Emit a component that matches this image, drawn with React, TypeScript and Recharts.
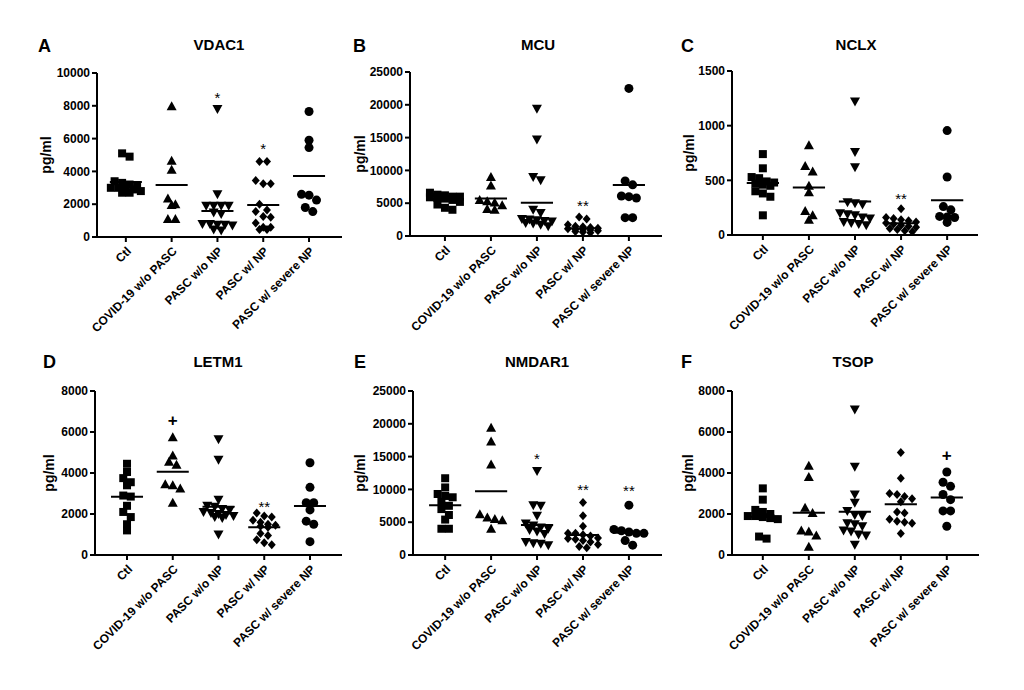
import React from 'react';
import { ReferenceLine, Scatter, ScatterChart, XAxis, YAxis } from 'recharts';

const FONT = '"Liberation Sans", Arial, sans-serif';

const categories = ['Ctl', 'COVID-19 w/o PASC', 'PASC w/o NP', 'PASC w/ NP', 'PASC w/ severe NP'];
const markerKinds = ['square', 'triangleUp', 'triangleDown', 'diamond', 'circle'];

// values, one list per group (pg/ml)
const vdac1Values = [
  [5100, 4900, 3400, 3300, 3200, 3100, 3000, 3000, 2900, 2900, 2800, 2700, 2700],
  [7970, 4650, 4100, 2350, 2000, 1950, 1100, 1100],
  [7800, 2600, 1900, 1900, 1900, 1900, 1500, 1400, 800, 800, 750, 750, 700, 450, 400],
  [4600, 4600, 3450, 3250, 3250, 2000, 1650, 1550, 1250, 1200, 850, 600, 600, 450, 450],
  [7650, 5900, 5450, 2600, 2550, 2250, 1800, 1550],
];
const vdac1Means = [3350, 3170, 1590, 1950, 3720];
const vdac1Marks = [{ group: 2, y: 8740, text: '*' }, { group: 3, y: 5590, text: '*' }];

const mcuValues = [
  [6600, 6300, 6200, 6000, 6000, 5900, 5800, 5700, 5500, 5200, 4800, 4300, 4000],
  [9000, 7700, 5500, 5300, 5100, 4700, 4100, 4000],
  [19400, 14700, 9000, 8500, 4000, 3500, 2600, 2500, 2400, 2300, 2200, 2000, 1900, 1700, 1500],
  [2900, 2600, 1700, 1500, 1400, 1300, 1200, 1100, 1000, 1000, 900, 800, 700, 600, 500],
  [22500, 8400, 7800, 6100, 6000, 5800, 2800, 2800],
];
const mcuMeans = [5600, 5730, 5070, 1170, 7760];
const mcuMarks = [{ group: 3, y: 5200, text: '**' }];

const nclxValues = [
  [740, 610, 530, 520, 490, 480, 470, 460, 450, 400, 380, 350, 180],
  [820, 630, 580, 450, 390, 220, 180, 140],
  [1220, 760, 620, 300, 290, 280, 200, 190, 180, 160, 150, 120, 110, 100, 90],
  [240, 160, 150, 140, 130, 120, 110, 100, 90, 80, 70, 60, 50, 40, 30],
  [955, 530, 260, 230, 170, 165, 160, 115],
];
const nclxMeans = [475, 435, 306, 107, 318];
const nclxMarks = [{ group: 3, y: 367, text: '**' }];

const letm1Values = [
  [4450, 4050, 3750, 3550, 3400, 2900, 2850, 2400, 2100, 1850, 1500, 1200],
  [5750, 4850, 4550, 4400, 3450, 3400, 3250, 2550],
  [5650, 4650, 2700, 2400, 2350, 2250, 2200, 2100, 2050, 2000, 1950, 1900, 1850, 1800, 1000],
  [2050, 1900, 1850, 1700, 1600, 1500, 1450, 1400, 1350, 1050, 950, 750, 600, 500],
  [4500, 3300, 2550, 2550, 2200, 1650, 1500, 650],
];
const letm1Means = [2840, 4060, 2350, 1350, 2390];
const letm1Marks = [{ group: 1, y: 6570, text: '+' }, { group: 3, y: 2550, text: '**' }];

const nmdar1Values = [
  [11700, 10300, 9300, 9000, 8800, 8100, 7500, 7000, 6100, 5400, 4000, 4000],
  [19400, 17300, 13800, 6200, 5700, 5500, 5300, 4000],
  [12800, 7600, 7500, 6000, 4800, 4500, 4200, 4000, 3800, 3600, 3200, 2000, 1800, 1700, 1500],
  [8000, 6000, 4400, 3300, 3300, 3100, 2900, 2600, 2500, 2400, 2200, 2000, 1600, 1300, 1100],
  [7600, 3900, 3700, 3500, 3300, 3300, 2200, 1500],
];
const nmdar1Means = [7600, 9730, 4560, 3040, 3400];
const nmdar1Marks = [
  { group: 2, y: 15300, text: '*' },
  { group: 3, y: 10500, text: '**' },
  { group: 4, y: 10290, text: '**' },
];

const tsopValues = [
  [3250, 2700, 2200, 2100, 2000, 1900, 1900, 1850, 1800, 1750, 900, 800],
  [4350, 3800, 2300, 2050, 1200, 1150, 950, 400],
  [7100, 4300, 2950, 2550, 2150, 1950, 1900, 1550, 1500, 1400, 1200, 1150, 1000, 950, 500],
  [5000, 3750, 3000, 2950, 2850, 2750, 2600, 2100, 2050, 1750, 1650, 1600, 1550, 1050],
  [4050, 3550, 3350, 2950, 2700, 2150, 2150, 1400],
];
const tsopMeans = [1870, 2060, 2110, 2470, 2810];
const tsopMarks = [{ group: 4, y: 4870, text: '+' }];

const ticks8000 = [0, 2000, 4000, 6000, 8000];
const ticks10000 = [0, 2000, 4000, 6000, 8000, 10000];
const ticks25000 = [0, 5000, 10000, 15000, 20000, 25000];
const ticks1500 = [0, 500, 1000, 1500];

const PLOT_H = 164;

const panels = [
  { letter: 'A', title: 'VDAC1', values: vdac1Values, means: vdac1Means, marks: vdac1Marks, yMax: 10000, yTicks: ticks10000,
    axisX: 97, axisTop: 73, plotW: 245, xDomain: [-0.63, 4.72], labelDist: 51, letterX: 38, titleX: 219, row: 0 },
  { letter: 'B', title: 'MCU', values: mcuValues, means: mcuMeans, marks: mcuMarks, yMax: 25000, yTicks: ticks25000,
    axisX: 410, axisTop: 72, plotW: 252, xDomain: [-0.76, 4.72], labelDist: 50, letterX: 353, titleX: 538, row: 0 },
  { letter: 'C', title: 'NCLX', values: nclxValues, means: nclxMeans, marks: nclxMarks, yMax: 1500, yTicks: ticks1500,
    axisX: 732, axisTop: 71, plotW: 246, xDomain: [-0.67, 4.67], labelDist: 43, letterX: 681, titleX: 856, row: 0 },
  { letter: 'D', title: 'LETM1', values: letm1Values, means: letm1Means, marks: letm1Marks, yMax: 8000, yTicks: ticks8000,
    axisX: 95, axisTop: 391, plotW: 247, xDomain: [-0.7, 4.7], labelDist: 46, letterX: 43, titleX: 218, row: 1 },
  { letter: 'E', title: 'NMDAR1', values: nmdar1Values, means: nmdar1Means, marks: nmdar1Marks, yMax: 25000, yTicks: ticks25000,
    axisX: 413, axisTop: 391, plotW: 249, xDomain: [-0.7, 4.72], labelDist: 53, letterX: 354, titleX: 537, row: 1 },
  { letter: 'F', title: 'TSOP', values: tsopValues, means: tsopMeans, marks: tsopMarks, yMax: 8000, yTicks: ticks8000,
    axisX: 732, axisTop: 391, plotW: 247, xDomain: [-0.67, 4.7], labelDist: 44, letterX: 681, titleX: 853, row: 1 },
];

// GraphPad style scatter: bin close values into rows and centre each row on the category
function spread(values: number[], group: number, pxPerX: number, pxPerY: number) {
  const sorted = [...values].sort((a, b) => b - a);
  const rows: number[][] = [];
  sorted.forEach((v) => {
    const row = rows[rows.length - 1];
    if (row && (row[0] - v) * pxPerY < 6 && row.length < 5) row.push(v);
    else rows.push([v]);
  });
  const out: { x: number; y: number }[] = [];
  rows.forEach((row) => {
    row.forEach((v, k) => {
      out.push({ x: group + ((k - (row.length - 1) / 2) * 7.5) / pxPerX, y: v });
    });
  });
  return out;
}

const makeMarker = (kind: string) => (props: any) => {
  const { cx, cy } = props;
  if (cx == null || cy == null) return <g />;
  switch (kind) {
    case 'square':
      return <rect x={cx - 4} y={cy - 4} width={8} height={8} fill="#000" />;
    case 'triangleUp':
      return <path d={`M${cx},${cy - 5}L${cx + 5},${cy + 4}L${cx - 5},${cy + 4}Z`} fill="#000" />;
    case 'triangleDown':
      return <path d={`M${cx},${cy + 5}L${cx + 5},${cy - 4}L${cx - 5},${cy - 4}Z`} fill="#000" />;
    case 'diamond':
      return <path d={`M${cx},${cy - 4.5}L${cx + 4},${cy}L${cx},${cy + 4.5}L${cx - 4},${cy}Z`} fill="#000" />;
    default:
      return <circle cx={cx} cy={cy} r={4.5} fill="#000" />;
  }
};

const markText = (props: any) => {
  const { cx, cy, payload } = props;
  if (cx == null || cy == null) return <g />;
  const isPlus = payload.text === '+';
  return (
    <text x={cx} y={cy} dy={isPlus ? 6 : 9} textAnchor="middle" fontFamily={FONT}
      fontSize={isPlus ? 17 : 15} fontWeight={isPlus ? 700 : 400} fill="#000" stroke="none">
      {payload.text}
    </text>
  );
};

const CategoryTick = (props: any) => {
  const { x, y, payload } = props;
  return (
    <g transform={`translate(${x + 3},${y + 5})`}>
      <text x={0} y={0} dy="0.35em" transform="rotate(-45)" textAnchor="end"
        fontFamily={FONT} fontSize={12} fontWeight={700} fill="#000">
        {categories[payload.value]}
      </text>
    </g>
  );
};

function Panel({ p }: { p: (typeof panels)[number] }) {
  const pxPerX = p.plotW / (p.xDomain[1] - p.xDomain[0]);
  const pxPerY = PLOT_H / p.yMax;
  const width = 70 + p.plotW + 10;
  const height = 10 + PLOT_H + 115;
  const markData = p.marks.map((m) => ({ x: m.group, y: m.y, text: m.text }));
  return (
    <div style={{ position: 'absolute', left: p.axisX - 70, top: p.axisTop - 10 }}>
      <ScatterChart width={width} height={height} margin={{ top: 10, right: 10, bottom: 5, left: 10 }}>
        <XAxis type="number" dataKey="x" domain={p.xDomain} ticks={[0, 1, 2, 3, 4]} interval={0}
          allowDataOverflow height={110} tickSize={5} tick={<CategoryTick />}
          axisLine={{ stroke: '#000', strokeWidth: 2 }} tickLine={{ stroke: '#000', strokeWidth: 2 }} />
        <YAxis type="number" dataKey="y" domain={[0, p.yMax]} ticks={p.yTicks} interval={0}
          allowDataOverflow width={60} tickSize={5}
          tick={{ fontSize: 12, fontWeight: 700, fill: '#000', fontFamily: FONT }}
          axisLine={{ stroke: '#000', strokeWidth: 2 }} tickLine={{ stroke: '#000', strokeWidth: 2 }} />
        {p.values.map((vals, g) => (
          <Scatter key={g} data={spread(vals, g, pxPerX, pxPerY)} shape={makeMarker(markerKinds[g])}
            fill="#000" isAnimationActive={false} />
        ))}
        {p.means.map((m, g) => (
          <ReferenceLine key={`m${g}`} segment={[{ x: g - 0.35, y: m }, { x: g + 0.35, y: m }]}
            stroke="#000" strokeWidth={2} ifOverflow="visible" />
        ))}
        <Scatter data={markData} shape={markText} fill="#000" isAnimationActive={false} />
      </ScatterChart>
    </div>
  );
}

export default function App() {
  return (
    <div style={{ position: 'relative', width: 1024, height: 690, background: '#fff', fontFamily: FONT }}>
      <style>{'body{margin:0}'}</style>
      {panels.map((p) => (
        <Panel key={p.letter} p={p} />
      ))}
      <svg width={1024} height={690} style={{ position: 'absolute', left: 0, top: 0, pointerEvents: 'none' }}>
        {panels.map((p) => {
          const letterBase = p.row === 0 ? 52 : 368;
          const titleBase = p.row === 0 ? 50 : 367;
          const cy = p.axisTop + PLOT_H / 2;
          const lx = p.axisX - p.labelDist;
          return (
            <g key={p.letter} fontFamily={FONT} fontWeight={700} fill="#000">
              <text x={p.letterX} y={letterBase} fontSize={18}>{p.letter}</text>
              <text x={p.titleX} y={titleBase} fontSize={15} textAnchor="middle">{p.title}</text>
              <text x={lx} y={cy} fontSize={14} textAnchor="middle" dominantBaseline="central"
                transform={`rotate(-90 ${lx} ${cy})`}>
                pg/ml
              </text>
            </g>
          );
        })}
      </svg>
    </div>
  );
}
